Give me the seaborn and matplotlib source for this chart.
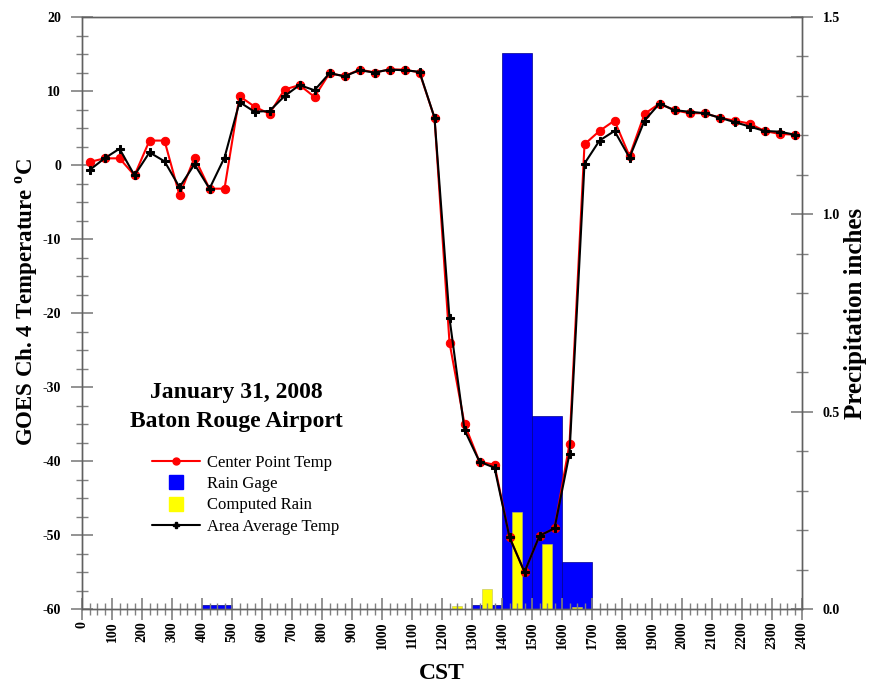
import numpy as np
import seaborn as sns
import matplotlib.pyplot as plt
from matplotlib.lines import Line2D
from matplotlib.ticker import MultipleLocator

# half-hourly GOES samples (CST, hour*100)
times = [25, 75, 125, 175, 225, 275, 325, 375, 425, 475, 525, 575,
         625, 675, 725, 775, 825, 875, 925, 975, 1025, 1075, 1125, 1175,
         1225, 1275, 1325, 1375, 1425, 1475, 1525, 1575, 1625, 1675, 1725, 1775,
         1825, 1875, 1925, 1975, 2025, 2075, 2125, 2175, 2225, 2275, 2325, 2375]
center_temp = [0.4, 0.9, 0.9, -1.4, 3.3, 3.3, -4.1, 1.0, -3.2, -3.2, 9.3, 7.9,
               6.9, 10.2, 10.8, 9.2, 12.4, 12.0, 12.9, 12.5, 12.9, 12.9, 12.5, 6.4,
               -24.0, -35.0, -40.1, -40.5, -50.3, -55.0, -50.1, -49.1, -37.7, 2.8, 4.6, 6.0,
               1.2, 6.9, 8.3, 7.4, 7.0, 7.0, 6.4, 6.0, 5.6, 4.6, 4.2, 4.1]
area_temp = [-0.7, 0.9, 2.2, -1.4, 1.7, 0.5, -3.0, 0.1, -3.2, 1.0, 8.5, 7.2,
             7.3, 9.3, 10.8, 10.1, 12.4, 12.0, 12.8, 12.5, 12.9, 12.8, 12.6, 6.4,
             -20.7, -35.8, -40.1, -40.9, -50.3, -55.0, -50.1, -49.1, -39.0, 0.2, 3.3, 4.6,
             1.0, 6.0, 8.3, 7.4, 7.2, 7.0, 6.4, 5.8, 5.2, 4.6, 4.5, 4.1]

# hourly rain gage totals (hour start) and computed rain (centre of half hour)
gage_start = [400, 1300, 1400, 1500, 1600]
gage_rain = [0.009, 0.01, 1.41, 0.49, 0.12]
comp_center = [1250, 1350, 1450, 1550, 1650]
comp_rain = [0.008, 0.05, 0.245, 0.165, 0.004]

sns.set_theme(style='ticks')
plt.rcParams['font.family'] = ['Liberation Serif', 'DejaVu Serif']
plt.rcParams['axes.unicode_minus'] = False
plt.rcParams['text.color'] = 'black'
plt.rcParams['axes.labelcolor'] = 'black'
plt.rcParams['xtick.labelcolor'] = 'black'
plt.rcParams['ytick.labelcolor'] = 'black'
plt.rcParams['mathtext.fontset'] = 'custom'
plt.rcParams['mathtext.rm'] = 'Liberation Serif'
plt.rcParams['mathtext.bf'] = 'Liberation Serif:bold'

fig = plt.figure(figsize=(8.72, 6.88), dpi=100)
ax = fig.add_axes([82 / 872, 1 - 609 / 688, 720 / 872, 592 / 688])
ax2 = ax.twinx()

# rain bars behind the temperature lines
ax2.bar(gage_start, gage_rain, width=100, align='edge', color='#0000FF',
        edgecolor='#00008B', linewidth=0.5)
ax2.bar(comp_center, comp_rain, width=34, align='center', color='#FFFF00',
        edgecolor='#BDBD60', linewidth=0.4)
ax.set_zorder(ax2.get_zorder() + 1)
ax.patch.set_visible(False)

sns.lineplot(x=times, y=center_temp, ax=ax, color='red', linewidth=1.5,
             marker='o', markersize=6, markeredgecolor='red')
sns.lineplot(x=times, y=area_temp, ax=ax, color='black', linewidth=1.5,
             marker='P', markersize=6, markeredgecolor='black')

ax.set_xlim(0, 2400)
ax.set_ylim(-60, 20)
ax2.set_ylim(0, 1.5)

ax.xaxis.set_major_locator(MultipleLocator(100))
ax.xaxis.set_minor_locator(MultipleLocator(25))
ax.yaxis.set_major_locator(MultipleLocator(10))
ax.yaxis.set_minor_locator(MultipleLocator(2.5))
ax2.yaxis.set_major_locator(MultipleLocator(0.5))
ax2.yaxis.set_minor_locator(MultipleLocator(0.1))
ax2.set_yticklabels([f'{v:.1f}' for v in ax2.get_yticks()])

for a in (ax, ax2):
    a.tick_params(which='major', direction='inout', length=16, width=1.2,
                  color='#808080', labelsize=10)
    a.tick_params(which='minor', direction='inout', length=9, width=1.0,
                  color='#808080')
    for s in a.spines.values():
        s.set_color('#606060')
        s.set_linewidth(1.0)
ax.tick_params(axis='x', which='major', pad=1)
ax.tick_params(axis='y', which='major', pad=7)
ax2.tick_params(axis='y', which='major', pad=7)
plt.setp(ax.get_xticklabels(), rotation=90, fontweight='bold')
plt.setp(ax.get_yticklabels(), fontweight='bold')
plt.setp(ax2.get_yticklabels(), fontweight='bold')

ax.set_xlabel('CST', fontsize=17, fontweight='bold', labelpad=10)
ax.set_ylabel(r'GOES Ch. 4 Temperature $^{\mathbf{o}}$C', fontsize=16.5,
              fontweight='bold')
ax.yaxis.set_label_coords(-0.058, 0.519)
ax2.set_ylabel('Precipitation inches', fontsize=18, fontweight='bold')
ax2.yaxis.set_label_coords(1.058, 0.5)

fig.text(236 / 872, 1 - 407 / 688, 'January 31, 2008\nBaton Rouge Airport',
         ha='center', va='center', fontsize=17, fontweight='bold', linespacing=1.47)

handles = [
    Line2D([], [], color='red', marker='o', markersize=5, linewidth=1.5),
    Line2D([], [], color='none', marker='s', markersize=10,
           markerfacecolor='#0000FF', markeredgecolor='#0000FF'),
    Line2D([], [], color='none', marker='s', markersize=10,
           markerfacecolor='#FFFF00', markeredgecolor='#FFFF00'),
    Line2D([], [], color='black', marker='P', markersize=5, linewidth=1.5),
]
labels = ['Center Point Temp', 'Rain Gage', 'Computed Rain', 'Area Average Temp']
ax.legend(handles, labels, loc='center left', bbox_to_anchor=(0.0764, 0.193),
          frameon=False, fontsize=12, handlelength=2.9, handletextpad=0.42,
          labelspacing=0.32)

fig.savefig('out.png', dpi=100)
